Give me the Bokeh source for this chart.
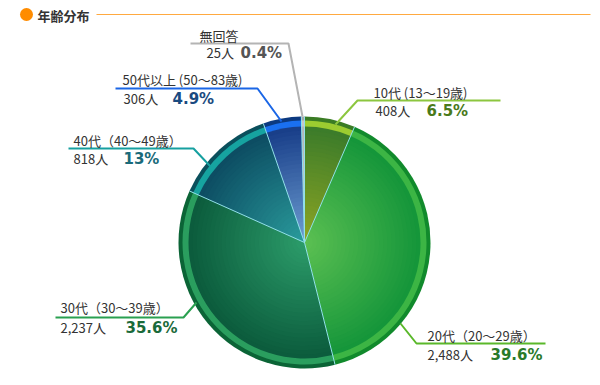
import numpy as np
from bokeh.plotting import figure
from bokeh.models import Range1d, ColumnDataSource
from bokeh.core.properties import value
from bokeh.embed import file_html
from bokeh.resources import INLINE

# ---------------- data ----------------
title = "年齢分布"
categories = ["10代", "20代", "30代", "40代", "50代以上", "無回答"]
label_titles = ["10代 (13〜19歳)", "20代（20〜29歳）", "30代（30〜39歳）",
                "40代（40〜49歳）", "50代以上 (50〜83歳)", "無回答"]
counts = [408, 2488, 2237, 818, 306, 25]
percents = [6.5, 39.6, 35.6, 13.0, 4.9, 0.4]
pct_labels = ["6.5%", "39.6%", "35.6%", "13%", "4.9%", "0.4%"]

# ---------------- styles ----------------
center_col = ["#8ea623", "#5cc052", "#2c9c6a", "#2a9c9c", "#6e9ed2", "#d4d4d4"]
edge_col = ["#3b7b2a", "#14953a", "#0b5b3c", "#0c4c62", "#173d88", "#b4b4b4"]
band_col = ["#9ccc30", "#3cb544", "#2a9e5e", "#16a3a0", "#1a70f0", "#c8c8c8"]
outer_col = ["#3a7c24", "#118a2c", "#0b6436", "#0a4f5c", "#0c3a80", "#a8a8a8"]
line_col = ["#8cc63f", "#5ab82a", "#2aa050", "#16a0a0", "#1a66e6", "#b4b4b4"]
pct_col = ["#4a7a1a", "#2a7a2a", "#1a6a3a", "#1a6a7a", "#1a4a80", "#555555"]

W, H = 600, 385


def X(x):
    return x


def Y(y):
    return H - y


cx, cy = X(304), Y(242)
R_OUT, R_BAND, R_FILL = 126, 122, 116

p = figure(width=W, height=H, output_backend="svg", toolbar_location=None,
           x_range=Range1d(0, W), y_range=Range1d(0, H), min_border=0)
p.axis.visible = False
p.grid.visible = False
p.outline_line_color = None
p.background_fill_color = "white"
p.border_fill_color = "white"

# ---------------- title ----------------
p.scatter([X(26)], [Y(14)], size=13, color="#ff8c00", line_color=None)
p.text([X(37)], [Y(15)], text=[title], text_font=value("Noto Sans CJK JP"),
       text_font_style="bold", text_font_size="13px", text_color="#333333",
       text_baseline="middle")
p.line([X(96), X(590)], [Y(14), Y(14)], line_color="#ffa940", line_width=1)

# ---------------- pie ----------------
frac = np.array(percents) / sum(percents)
cum = np.concatenate([[0], np.cumsum(frac)])
ang_hi = np.pi / 2 - 2 * np.pi * cum[:-1]
ang_lo = np.pi / 2 - 2 * np.pi * cum[1:]


def hex2rgb(h):
    h = h.lstrip("#")
    return np.array([int(h[i:i + 2], 16) for i in (0, 2, 4)], dtype=float)


def rgb2hex(c):
    return "#%02x%02x%02x" % tuple(int(round(v)) for v in c)


rows = []  # (radius, start, end, color)
N = 28
for i in range(len(percents)):
    rows.append((R_OUT, ang_lo[i], ang_hi[i], outer_col[i]))
    rows.append((R_BAND, ang_lo[i], ang_hi[i], band_col[i]))
    c0, c1 = hex2rgb(center_col[i]), hex2rgb(edge_col[i])
    for k in range(N, 0, -1):
        t = (k - 0.5) / N
        rows.append((R_FILL * k / N, ang_lo[i], ang_hi[i], rgb2hex(c0 + (c1 - c0) * t)))
rows.sort(key=lambda r: -r[0])
src = ColumnDataSource(dict(
    x=[cx] * len(rows), y=[cy] * len(rows),
    r=[r[0] for r in rows], s=[r[1] for r in rows],
    e=[r[2] for r in rows], c=[r[3] for r in rows]))
p.wedge(x="x", y="y", radius="r", start_angle="s", end_angle="e",
        fill_color="c", line_color=None, source=src)

# slice separators
bound = ang_hi
p.segment(x0=[cx] * len(bound), y0=[cy] * len(bound),
          x1=list(cx + R_OUT * np.cos(bound)), y1=list(cy + R_OUT * np.sin(bound)),
          line_color="#92e0e8", line_width=1)

# ---------------- labels ----------------
# leader lines (ref pixel coordinates), label anchors
leaders = [
    [(500, 100), (357, 100), (335, 124)],
    [(545, 343), (416, 343), (400, 323)],
    [(55, 317), (183, 317), (196, 302)],
    [(68, 148), (193, 148), (210, 166)],
    [(115, 88), (257, 88), (281, 121)],
    [(190, 43), (288, 43), (302, 116)],
]
title_pos = [(373, 92), (427, 335), (60, 307), (73, 140), (122, 79), (199, 35)]
count_pos = [(375, 110), (427, 354), (60, 327), (73, 158), (123, 98), (206, 52)]
pct_pos = [(426, 110), (490, 354), (125, 327), (123, 158), (172, 98), (240, 52)]

p.multi_line(xs=[[X(a) for a, b in L] for L in leaders],
             ys=[[Y(b) for a, b in L] for L in leaders],
             line_color=line_col, line_width=2)

p.text([X(a) for a, b in title_pos], [Y(b) for a, b in title_pos], text=label_titles,
       text_font=value("Noto Sans CJK JP"), text_font_size="13px",
       text_color="#333333", text_baseline="middle")
p.text([X(a) for a, b in count_pos], [Y(b) for a, b in count_pos],
       text=[f"{c:,}人" for c in counts],
       text_font=value("Noto Sans CJK JP"), text_font_size="13px",
       text_color="#333333", text_baseline="middle")
p.text([X(a) for a, b in pct_pos], [Y(b) for a, b in pct_pos], text=pct_labels,
       text_font=value("DejaVu Sans"), text_font_style="bold", text_font_size="15px",
       text_color=pct_col, text_baseline="middle")

open("out.html", "w").write(file_html(p, INLINE))
